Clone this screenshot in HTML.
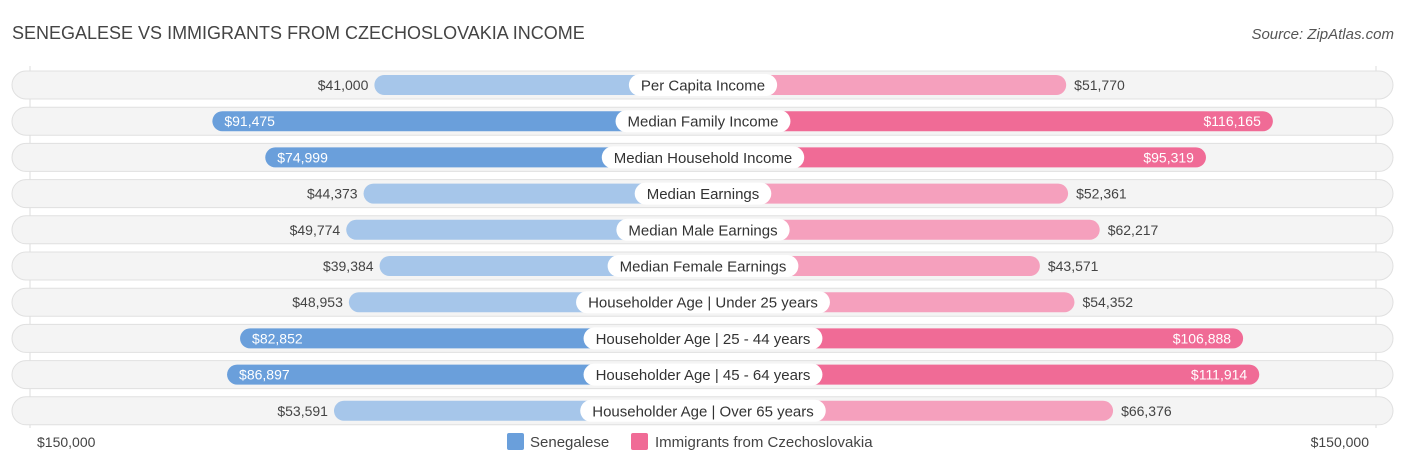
<!DOCTYPE html>
<html><head><meta charset="utf-8"><style>
body{margin:0;background:#fff;font-family:"Liberation Sans",sans-serif;}
svg{display:block}
</style></head><body>
<svg id="c" width="1406" height="467">
<text x="12" y="39" font-size="18" fill="#444">SENEGALESE VS IMMIGRANTS FROM CZECHOSLOVAKIA INCOME</text>
<text x="1394" y="39" font-size="15" fill="#555" font-style="italic" text-anchor="end">Source: ZipAtlas.com</text>
<line x1="30" y1="66" x2="30" y2="428" stroke="#ddd"/>
<line x1="1376" y1="66" x2="1376" y2="428" stroke="#ddd"/>
<text x="37" y="447" font-size="14" fill="#444">$150,000</text>
<text x="1369" y="447" font-size="14" fill="#444" text-anchor="end">$150,000</text>
<rect x="507" y="433" width="17" height="17" rx="2" fill="#6a9fdb"/>
<text x="530" y="447" font-size="15" fill="#444">Senegalese</text>
<rect x="631" y="433" width="17" height="17" rx="2" fill="#f06b96"/>
<text x="655" y="447" font-size="15" fill="#444">Immigrants from Czechoslovakia</text>
<g id="rows"></g>
</svg>
<script>
const categories=["Per Capita Income","Median Family Income","Median Household Income","Median Earnings","Median Male Earnings","Median Female Earnings","Householder Age | Under 25 years","Householder Age | 25 - 44 years","Householder Age | 45 - 64 years","Householder Age | Over 65 years"];
const senegalese=[41000,91475,74999,44373,49774,39384,48953,82852,86897,53591];
const czechoslovakia=[51770,116165,95319,52361,62217,43571,54352,106888,111914,66376];
const NS="http://www.w3.org/2000/svg";
const cx=703, off=197, k=0.00321;
function len(v){return off+v*k;}
function fmt(v){return "$"+v.toLocaleString("en-US");}
const g=document.getElementById("rows");
function mk(t,a){const e=document.createElementNS(NS,t);for(const n in a)e.setAttribute(n,a[n]);g.appendChild(e);return e;}
categories.forEach((c,i)=>{
 const y=85+i*36.2;
 const bg=mk("rect",{x:12,y:y-14,width:1381,height:28,rx:14,fill:"#f4f4f4",stroke:"#e0e0e0"});
 
 
 const sv=senegalese[i], cv=czechoslovakia[i];
 const sDark=sv>70000, cDark=cv>70000;
 const lw=len(sv);
 const b1=mk("rect",{x:cx-lw,y:y-10,width:lw,height:20,rx:10,fill:sDark?"#6a9fdb":"#a6c6ea"});
 
 
 const rw=len(cv);
 const b2=mk("rect",{x:cx,y:y-10,width:rw,height:20,rx:10,fill:cDark?"#f06b96":"#f5a0bd"});
 
 
 const t1=mk("text",{x:sDark?cx-lw+12:cx-lw-6,y:y+5,"font-size":14,fill:sDark?"#fff":"#444","text-anchor":sDark?"start":"end"});
 t1.textContent=fmt(sv);
 
 
 const t2=mk("text",{x:cDark?cx+rw-12:cx+rw+8,y:y+5,"font-size":14,fill:cDark?"#fff":"#444","text-anchor":cDark?"end":"start"});
 t2.textContent=fmt(cv);
 
 
 const lab=mk("text",{x:cx,y:y+5.5,"font-size":15,fill:"#333","text-anchor":"middle"});
 lab.textContent=c;
 
 
 const w=lab.getComputedTextLength()+24;
 const pill=document.createElementNS(NS,"rect");
 pill.setAttribute("x",cx-w/2);pill.setAttribute("y",y-11);pill.setAttribute("width",w);pill.setAttribute("height",22);pill.setAttribute("rx",11);pill.setAttribute("fill","#fff");
 
 
 g.insertBefore(pill,lab);
});
</script>
</body></html>
